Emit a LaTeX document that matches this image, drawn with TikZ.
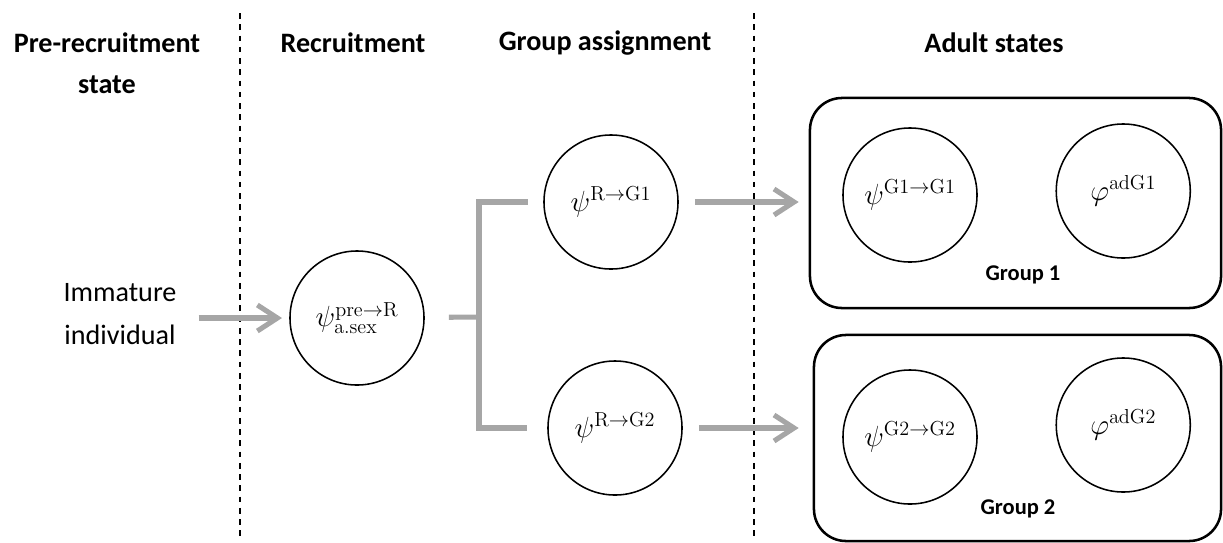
\documentclass[tikz,border=0pt]{standalone}
\usepackage{amsmath,amssymb}
\usepackage[no-math]{fontspec}
\setmainfont{Carlito}
\usepackage{tikz}
\usetikzlibrary{arrows.meta, positioning}

\definecolor{flowgray}{HTML}{A6A6A6}

\begin{document}
\begin{tikzpicture}[x = 0.025cm, y = -0.025cm, > = {Straight Barb[length=5mm, width=6.5mm]}, node distance = 5.33cm,
	param/.style = {circle, draw, line width=1.1pt, minimum size=3.35cm, inner sep=0pt, font=\fontsize{20}{24}\selectfont},
	header/.style = {align=center, inner sep=0pt, font=\fontsize{20}{29}\selectfont\bfseries},
	plain/.style = {align=center, inner sep=0pt, font=\fontsize{20}{30}\selectfont},
	grouplabel/.style = {inner sep=0pt, font=\fontsize{16}{19}\selectfont\bfseries},
	groupbox/.style = {draw, rounded corners=0.8cm, line width=1.8pt, inner sep=0pt},
	flow/.style = {draw=flowgray, line width=3.6pt},
	divider/.style = {dash pattern=on 4pt off 4pt, line width=1pt}]

\useasboundingbox (0,0) rectangle (1223,542);

% column headers
\node[header]	(hpre)		at (107,63.5)	{Pre-recruitment\\state};
\node[header]	(hrec)		at (353,43)		{Recruitment};
\node[header]	(hgrp)		at (605,43)		{Group assignment};
\node[header]	(hadult)	at (994,43)		{Adult states};

\draw[divider] (240,13) -- (240,540);
\draw[divider] (754,13) -- (754,540);

% adult groups
\node[groupbox, minimum width=10.275cm, minimum height=5.25cm]	(grp1) at (1015.5,203) {};
\node[groupbox, minimum width=10.175cm, minimum height=5.15cm]	(grp2) at (1017.5,438) {};

\node[plain]					(imm)						at (120,314)	{Immature\\individual};
\node[param]					(pre)						at (357,318)	{$\psi^{\mathrm{pre}\to\mathrm{R}}_{\mathrm{a.sex}}$};
\node[param]					(rg1)						at (611,202)	{$\psi^{\mathrm{R}\to\mathrm{G1}}$};
\node[param]					(rg2)						at (615,428)	{$\psi^{\mathrm{R}\to\mathrm{G2}}$};
\node[param]					(g1g1)						at (910,195)	{$\psi^{\mathrm{G1}\to\mathrm{G1}}$};
\node[param]					(adg1)	[right of=g1g1, yshift=0.1cm]		{$\varphi^{\mathrm{adG1}}$};
\node[param]					(g2g2)						at (910,437)	{$\psi^{\mathrm{G2}\to\mathrm{G2}}$};
\node[param]					(adg2)	[right of=g2g2, yshift=0.3cm]		{$\varphi^{\mathrm{adG2}}$};
\node[grouplabel]				(lab1)						at (1023,275)	{Group 1};
\node[grouplabel]				(lab2)						at (1018,509)	{Group 2};

\coordinate (fork) at (479,317);

\draw[flow, ->, shorten <= 0.55cm, shorten >= 0.18cm]	(imm.east |- pre)	-- (pre);
\draw[flow, shorten <= 0.6cm]							(pre)				-- (fork);
\draw[flow, shorten >= 0.37cm]							(fork)				|- (rg1);
\draw[flow, shorten >= 0.5cm]							(fork)				|- (rg2);
\draw[flow, ->, shorten <= 0.4cm, shorten >= 0.25cm]	(rg1)				-- (rg1 -| grp1.west);
\draw[flow, ->, shorten <= 0.4cm, shorten >= 0.35cm]	(rg2)				-- (rg2 -| grp2.west);

\end{tikzpicture}
\end{document}
